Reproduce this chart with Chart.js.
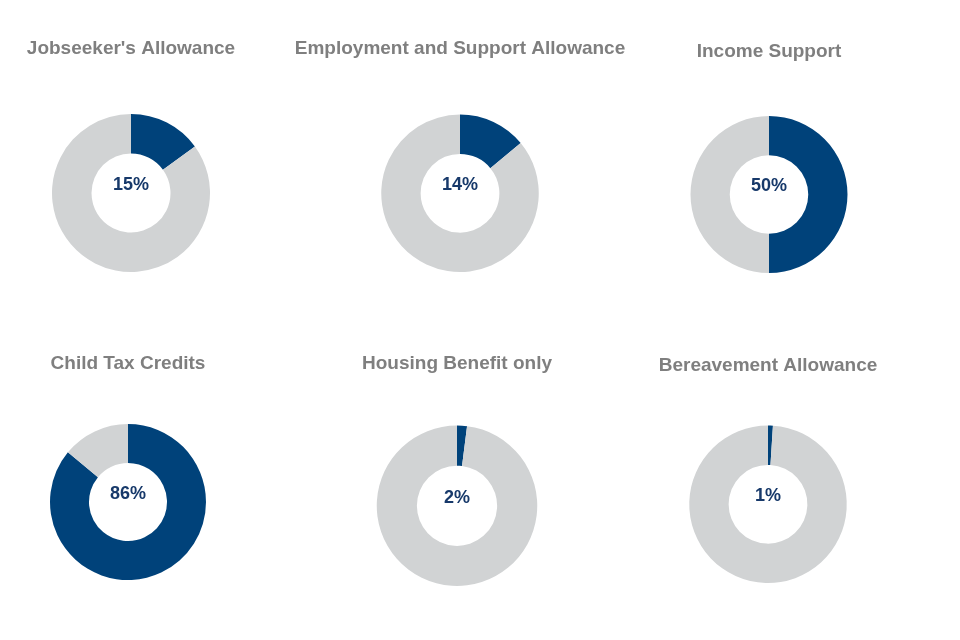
<!DOCTYPE html>
<html>
<head>
<meta charset="utf-8">
<script src="https://cdn.jsdelivr.net/npm/chart.js@4.4.1/dist/chart.umd.min.js"></script>
<style>
  html, body { margin: 0; padding: 0; background: #fff; }
  #page { position: relative; width: 960px; height: 640px; overflow: hidden; }
  .box { position: absolute; }
</style>
</head>
<body>
<div id="page"></div>
<script>
// data
const titles = [
  "Jobseeker's Allowance",
  'Employment and Support Allowance',
  'Income Support',
  'Child Tax Credits',
  'Housing Benefit only',
  'Bereavement Allowance'
];
const shares = [15, 14, 50, 86, 2, 1];
const sliceLabels = ['Receiving', 'Not receiving'];

// where each ring sits on the page
const layout = [
  { cx: 131,   cy: 193,   r: 79,   titleY: 48,   w: 250 },
  { cx: 460,   cy: 193,   r: 78.5, titleY: 48,   w: 340 },
  { cx: 769,   cy: 194.5, r: 78.5, titleY: 51.5, w: 250 },
  { cx: 128,   cy: 502,   r: 78,   titleY: 363,  w: 250 },
  { cx: 457,   cy: 505.5, r: 80,   titleY: 363,  w: 250 },
  { cx: 767.5, cy: 504,   r: 78.5, titleY: 365.5, w: 250 }
];

const blue = '#00427a';
const grey = '#d1d3d4';
const titleSize = 19;
const titleLine = 1.2;
const spare = 4; // room under the ring so its edge is not cut

Chart.defaults.font.family = "'Liberation Sans', Arial, sans-serif";

// percentage in the hole
const centerText = {
  id: 'centerText',
  afterDraw(chart, args, opts) {
    const meta = chart.getDatasetMeta(0);
    if (!meta.data.length) return;
    const arc = meta.data[0];
    const ctx = chart.ctx;
    ctx.save();
    ctx.font = "bold 18px 'Liberation Sans', Arial, sans-serif";
    ctx.fillStyle = '#17396a';
    ctx.textAlign = 'center';
    ctx.textBaseline = 'middle';
    ctx.fillText(opts.text, arc.x, arc.y - 8);
    ctx.restore();
  }
};

const page = document.getElementById('page');

titles.forEach((title, i) => {
  const L = layout[i];
  const top = Math.round(L.titleY - titleSize * titleLine / 2);
  const height = Math.round(L.cy + L.r - top) + spare;
  const gap = (L.cy - L.r) - top - titleSize * titleLine;

  const box = document.createElement('div');
  box.className = 'box';
  box.style.left = Math.round(L.cx - L.w / 2) + 'px';
  box.style.top = top + 'px';
  box.style.width = L.w + 'px';
  box.style.height = height + 'px';
  const canvas = document.createElement('canvas');
  box.appendChild(canvas);
  page.appendChild(box);

  new Chart(canvas.getContext('2d'), {
    type: 'doughnut',
    data: {
      labels: sliceLabels,
      datasets: [{
        data: [shares[i], 100 - shares[i]],
        backgroundColor: [blue, grey],
        borderWidth: 0,
        hoverOffset: 0
      }]
    },
    options: {
      responsive: true,
      maintainAspectRatio: false,
      animation: false,
      cutout: '50%',
      layout: { padding: { bottom: spare } },
      plugins: {
        legend: { display: false },
        tooltip: { enabled: false },
        title: {
          display: true,
          text: title,
          color: '#7f7f7f',
          font: { size: titleSize, weight: 'bold', lineHeight: titleLine },
          padding: { top: 0, bottom: gap }
        },
        centerText: { text: shares[i] + '%' }
      }
    },
    plugins: [centerText]
  });
});
</script>
</body>
</html>
